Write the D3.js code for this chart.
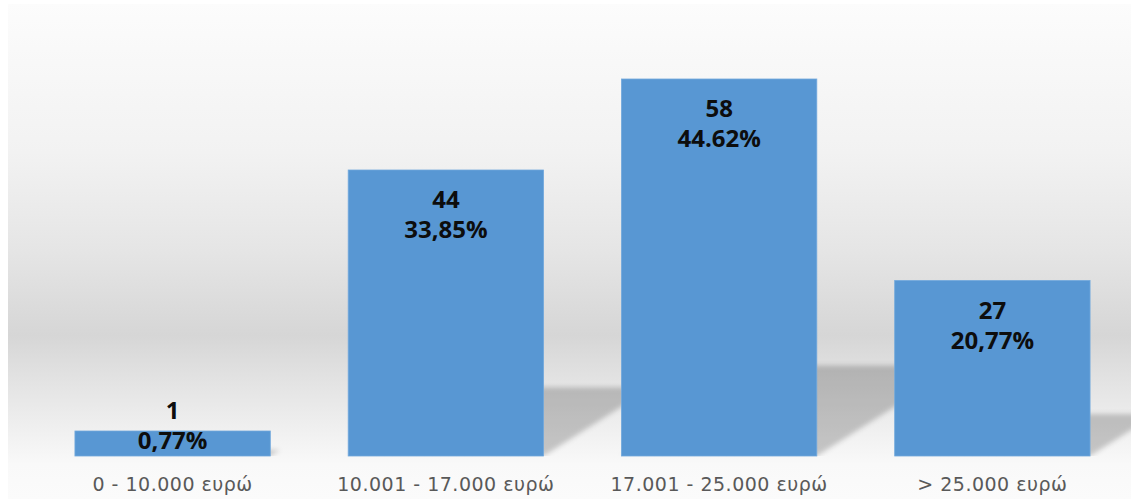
<!DOCTYPE html>
<html>
<head>
<meta charset="utf-8">
<script src="https://cdn.jsdelivr.net/npm/d3@7"></script>
<style>
  html, body { margin: 0; padding: 0; background: #ffffff; }
  svg { display: block; }
</style>
</head>
<body>
<svg id="chart"></svg>
<script>
// data
const categories = ["0 - 10.000 ευρώ", "10.001 - 17.000 ευρώ", "17.001 - 25.000 ευρώ", "> 25.000 ευρώ"];
const counts = [1, 44, 58, 27];
const percentLabels = ["0,77%", "33,85%", "44.62%", "20,77%"];

const width = 1140, height = 499;
const base = 456; // bottom of the bars
const minBar = 25;

const svg = d3.select("#chart")
  .attr("width", width)
  .attr("height", height);

const defs = svg.append("defs");

// chart area background, light on top, darker "horizon" band, light again below
const bg = defs.append("linearGradient")
  .attr("id", "bg")
  .attr("x1", 0).attr("y1", 0).attr("x2", 0).attr("y2", 1);
[[0, "#fcfcfc"], [0.3, "#f2f2f2"], [0.5, "#e5e5e5"], [0.67, "#d6d6d6"], [0.77, "#e4e4e4"], [0.87, "#f1f1f1"], [0.93, "#f9f9f9"], [1, "#fbfbfb"]]
  .forEach(([o, c]) => bg.append("stop").attr("offset", o).attr("stop-color", c));

defs.append("filter")
  .attr("id", "blur")
  .attr("x", "-20%").attr("y", "-20%").attr("width", "140%").attr("height", "140%")
  .append("feGaussianBlur")
  .attr("stdDeviation", 2.5);

defs.append("clipPath")
  .attr("id", "area")
  .append("rect")
  .attr("x", 8).attr("y", 4).attr("width", 1123).attr("height", base - 4);

svg.append("rect")
  .attr("x", 8).attr("y", 4)
  .attr("width", 1123).attr("height", height - 4)
  .attr("fill", "url(#bg)");

const x = d3.scaleBand()
  .domain(categories)
  .range([36, 1129])
  .paddingInner(0.285)
  .paddingOuter(0.1425);

const y = d3.scaleLinear()
  .domain([0, 58])
  .range([base, 79]);

const barTop = i => Math.min(y(counts[i]), base - minBar);

// perspective shadows thrown up and to the right behind each bar
svg.append("g")
  .attr("clip-path", "url(#area)")
  .append("g")
  .attr("filter", "url(#blur)")
  .selectAll("path")
  .data(categories)
  .join("path")
  .attr("fill", "#000")
  .attr("fill-opacity", 0.2)
  .attr("d", (d, i) => {
    const h = base - barTop(i);
    const x0 = x(d), x1 = x(d) + x.bandwidth();
    const dx = h * 0.38, dy = h * 0.24;
    return `M${x0},${base}L${x1},${base}L${x1 + dx},${base - dy}L${x0 + dx},${base - dy}Z`;
  });

// bars
svg.append("g")
  .selectAll("rect")
  .data(categories)
  .join("rect")
  .attr("x", d => x(d))
  .attr("y", (d, i) => barTop(i))
  .attr("width", x.bandwidth())
  .attr("height", (d, i) => base - barTop(i))
  .attr("fill", "#5897d3")
  .attr("stroke", "#72a9dd")
  .attr("stroke-width", 0.8);

// value labels: count over percentage
const labels = svg.append("g")
  .attr("font-family", "'Open Sans', sans-serif")
  .attr("font-weight", "bold")
  .attr("font-size", 24)
  .attr("fill", "#0d0d0d")
  .attr("text-anchor", "middle")
  .selectAll("g")
  .data(categories)
  .join("g")
  .attr("transform", (d, i) => {
    const t = barTop(i);
    const pctBase = (base - t) < 80 ? base - 7 : t + 68;
    return `translate(${x(d) + x.bandwidth() / 2},${pctBase})`;
  });

labels.append("text")
  .attr("y", -30)
  .text((d, i) => counts[i]);

labels.append("text")
  .attr("y", 0)
  .text((d, i) => percentLabels[i]);

// category axis labels
svg.append("g")
  .attr("transform", `translate(0,${base})`)
  .call(d3.axisBottom(x).tickSize(0).tickPadding(0))
  .call(g => g.select(".domain").remove())
  .call(g => g.selectAll("text")
    .attr("dy", null)
    .attr("y", 35)
    .attr("fill", "#595959")
    .attr("font-family", "'DejaVu Sans', sans-serif")
    .attr("font-size", 19)
    .attr("letter-spacing", 0.5));
</script>
</body>
</html>
